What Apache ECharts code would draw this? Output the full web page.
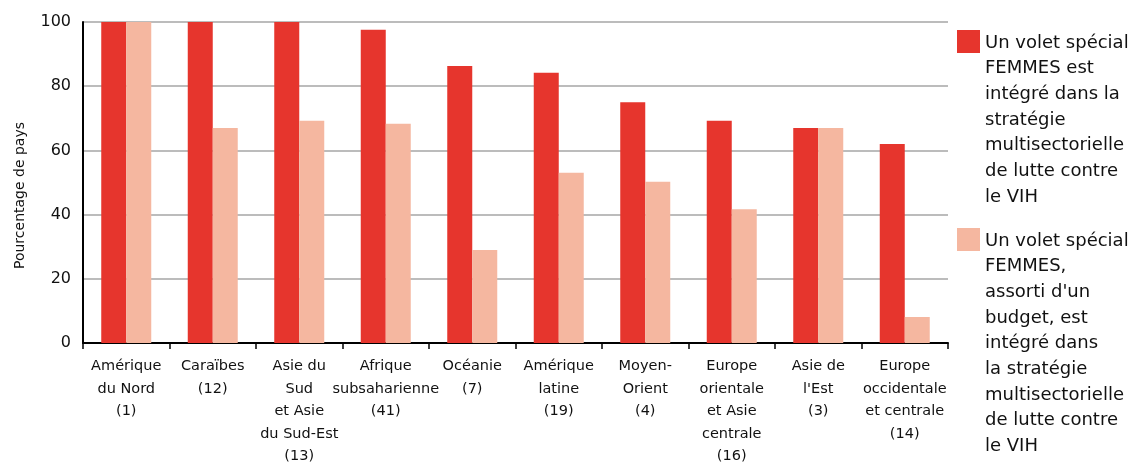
<!DOCTYPE html>
<html>
<head>
<meta charset="utf-8">
<script src="https://cdn.jsdelivr.net/npm/echarts@6/dist/echarts.min.js"></script>
<style>
  html, body { margin: 0; padding: 0; background: #fff; }
  #main { width: 1144px; height: 462px; }
</style>
</head>
<body>
<div id="main"></div>
<script>
// régions (nombre de pays)
var regions = [
    'Amérique\ndu Nord\n(1)',
    'Caraïbes\n(12)',
    'Asie du\nSud\net Asie\ndu Sud-Est\n(13)',
    'Afrique\nsubsaharienne\n(41)',
    'Océanie\n(7)',
    'Amérique\nlatine\n(19)',
    'Moyen-\nOrient\n(4)',
    'Europe\norientale\net Asie\ncentrale\n(16)',
    'Asie de\nl\'Est\n(3)',
    'Europe\noccidentale\net centrale\n(14)'
];
var voletFemmes = [100, 100, 100, 97.6, 86.3, 84.2, 75, 69.2, 67, 62];
var voletBudget = [100, 67, 69.2, 68.3, 29, 53, 50.2, 41.7, 67, 8.1];
var yTicks = [0, 20, 40, 60, 80, 100];
var nomSerie1 = 'Un volet spécial\nFEMMES est\nintégré dans la\nstratégie\nmultisectorielle\nde lutte contre\nle VIH';
var nomSerie2 = 'Un volet spécial\nFEMMES,\nassorti d\'un\nbudget, est\nintégré dans\nla stratégie\nmultisectorielle\nde lutte contre\nle VIH';

var rouge = '#e6352d';
var rose = '#f5b7a0';
var police = '"DejaVu Sans"';
var lh = 25.7;

// carré en haut d'une boîte haute comme le texte
function iconeHaut(nbLignes) {
    var h = nbLignes * lh;
    return 'path://M0,0 L23,0 L23,23 L0,23 Z M0,' + h + ' L0,' + h;
}

var myChart = echarts.init(document.getElementById('main'));
var option = {
    textStyle: { fontFamily: police },
    animation: false,
    grid: { left: 83, right: 196, top: 22, bottom: 119, outerBoundsMode: 'none' },
    legend: [
        {
            data: [{ name: nomSerie1, icon: iconeHaut(7) }],
            left: 952,
            top: 25,
            itemWidth: 23,
            itemHeight: 7 * lh,
            symbolKeepAspect: true,
            textStyle: { fontSize: 18, lineHeight: lh, color: '#111', fontFamily: police }
        },
        {
            data: [{ name: nomSerie2, icon: iconeHaut(9) }],
            left: 952,
            top: 223,
            itemWidth: 23,
            itemHeight: 9 * lh,
            symbolKeepAspect: true,
            textStyle: { fontSize: 18, lineHeight: lh, color: '#111', fontFamily: police }
        }
    ],
    xAxis: {
        type: 'category',
        data: regions,
        axisLine: { lineStyle: { color: '#000', width: 2 } },
        axisTick: { show: true, length: 6, lineStyle: { color: '#000', width: 1.5 } },
        axisLabel: {
            interval: 0,
            color: '#111',
            fontSize: 14.5,
            lineHeight: 22.5,
            margin: 12,
            fontFamily: police
        }
    },
    yAxis: {
        type: 'value',
        min: 0,
        max: 100,
        interval: 20,
        name: 'Pourcentage de pays',
        nameLocation: 'middle',
        nameGap: 56,
        nameTextStyle: { fontSize: 14, color: '#111', fontFamily: police, padding: [0, 26, 0, 0] },
        axisLine: { show: true, lineStyle: { color: '#000', width: 2 } },
        axisTick: { show: false },
        axisLabel: {
            color: '#111', fontSize: 16, margin: 12, fontFamily: police,
            formatter: function (v) { return yTicks.indexOf(v) >= 0 ? String(v) : ''; }
        },
        splitLine: { lineStyle: { color: '#a6a6a6', width: 1.5 } }
    },
    series: [
        {
            name: nomSerie1,
            type: 'bar',
            data: voletFemmes,
            barWidth: 25,
            barGap: '0%',
            itemStyle: { color: rouge }
        },
        {
            name: nomSerie2,
            type: 'bar',
            data: voletBudget,
            barWidth: 25,
            itemStyle: { color: rose }
        }
    ]
};
myChart.setOption(option);
</script>
</body>
</html>
